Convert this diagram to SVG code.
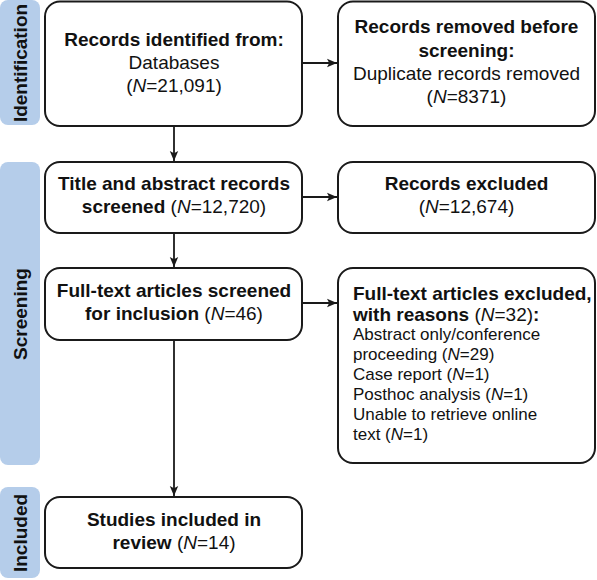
<svg xmlns="http://www.w3.org/2000/svg" width="597" height="580" viewBox="0 0 597 580">
<defs>
<style>
.band{fill:#b5cdea;}
.box{fill:#fff;stroke:#1a1a1a;stroke-width:2;}
text{font-family:"Liberation Sans",Arial,sans-serif;fill:#111;}
.t{font-size:19px;}
.s{font-size:17px;}
.b{font-weight:bold;}
.c{text-anchor:middle;}
.i{font-style:italic;}
.lab{font-size:19px;font-weight:bold;text-anchor:middle;}
.ln{stroke:#1a1a1a;stroke-width:1.8;fill:none;}
</style>
<marker id="ah" viewBox="0 0 10 10" refX="10" refY="5" markerWidth="10" markerHeight="10" markerUnits="userSpaceOnUse" orient="auto">
<path d="M0,0.8 L10,5 L0,9.2 L2.2,5 Z" fill="#1a1a1a"/>
</marker>
</defs>
<rect width="597" height="580" fill="#fff"/>
<g id="phases">
<rect class="band" x="0" y="0" width="40" height="125" rx="8"/>
<rect class="band" x="0" y="162" width="40" height="303" rx="8"/>
<rect class="band" x="0" y="487" width="40" height="91" rx="8"/>
<text class="lab" transform="translate(27,63) rotate(-90)">Identification</text>
<text class="lab" transform="translate(27,314) rotate(-90)">Screening</text>
<text class="lab" transform="translate(27,533) rotate(-90)">Included</text>
</g>
<g id="connectors">
<line class="ln" x1="174" y1="126" x2="174" y2="161" marker-end="url(#ah)"/>
<line class="ln" x1="174" y1="233" x2="174" y2="267" marker-end="url(#ah)"/>
<line class="ln" x1="174" y1="340" x2="174" y2="496" marker-end="url(#ah)"/>
<line class="ln" x1="302" y1="63" x2="337" y2="63" marker-end="url(#ah)"/>
<line class="ln" x1="302" y1="197" x2="337" y2="197" marker-end="url(#ah)"/>
<line class="ln" x1="302" y1="303" x2="337" y2="303" marker-end="url(#ah)"/>
</g>
<g id="identified">
<rect class="box" x="45" y="1.5" width="257" height="124.5" rx="15"/>
<text class="t c" x="174" y="46"><tspan class="b">Records identified from:</tspan></text>
<text class="t c" x="174" y="69">Databases</text>
<text class="t c" x="174" y="92">(<tspan class="i">N</tspan>=21,091)</text>
</g>
<g id="removed">
<rect class="box" x="338" y="1.5" width="257" height="124.5" rx="15"/>
<text class="t c b" x="466.5" y="33">Records removed before</text>
<text class="t c b" x="466.5" y="57">screening:</text>
<text class="t c" x="466.5" y="80">Duplicate records removed</text>
<text class="t c" x="466.5" y="103">(<tspan class="i">N</tspan>=8371)</text>
</g>
<g id="screened">
<rect class="box" x="45" y="162" width="257" height="71" rx="15"/>
<text class="t c b" x="174" y="190">Title and abstract records</text>
<text class="t c" x="174" y="213"><tspan class="b">screened</tspan> (<tspan class="i">N</tspan>=12,720)</text>
</g>
<g id="excluded">
<rect class="box" x="338" y="162" width="257" height="71" rx="15"/>
<text class="t c b" x="466.5" y="190">Records excluded</text>
<text class="t c" x="466.5" y="213">(<tspan class="i">N</tspan>=12,674)</text>
</g>
<g id="fulltext">
<rect class="box" x="45" y="268" width="257" height="72" rx="15"/>
<text class="t c b" x="174" y="297">Full-text articles screened</text>
<text class="t c" x="174" y="320"><tspan class="b">for inclusion</tspan> (<tspan class="i">N</tspan>=46)</text>
</g>
<g id="fulltext-excluded">
<rect class="box" x="338" y="268" width="257" height="195" rx="15"/>
<text class="t b" x="353" y="300">Full-text articles excluded,</text>
<text class="t" x="353" y="321"><tspan class="b">with reasons</tspan> (<tspan class="i">N</tspan>=32)<tspan class="b">:</tspan></text>
<text class="s" x="353" y="340">Abstract only/conference</text>
<text class="s" x="353" y="360">proceeding (<tspan class="i">N</tspan>=29)</text>
<text class="s" x="353" y="380">Case report (<tspan class="i">N</tspan>=1)</text>
<text class="s" x="353" y="400">Posthoc analysis (<tspan class="i">N</tspan>=1)</text>
<text class="s" x="353" y="420">Unable to retrieve online</text>
<text class="s" x="353" y="440">text (<tspan class="i">N</tspan>=1)</text>
</g>
<g id="included">
<rect class="box" x="45" y="497" width="257" height="71" rx="15"/>
<text class="t c b" x="174" y="526">Studies included in</text>
<text class="t c" x="174" y="549"><tspan class="b">review</tspan> (<tspan class="i">N</tspan>=14)</text>
</g>
</svg>
